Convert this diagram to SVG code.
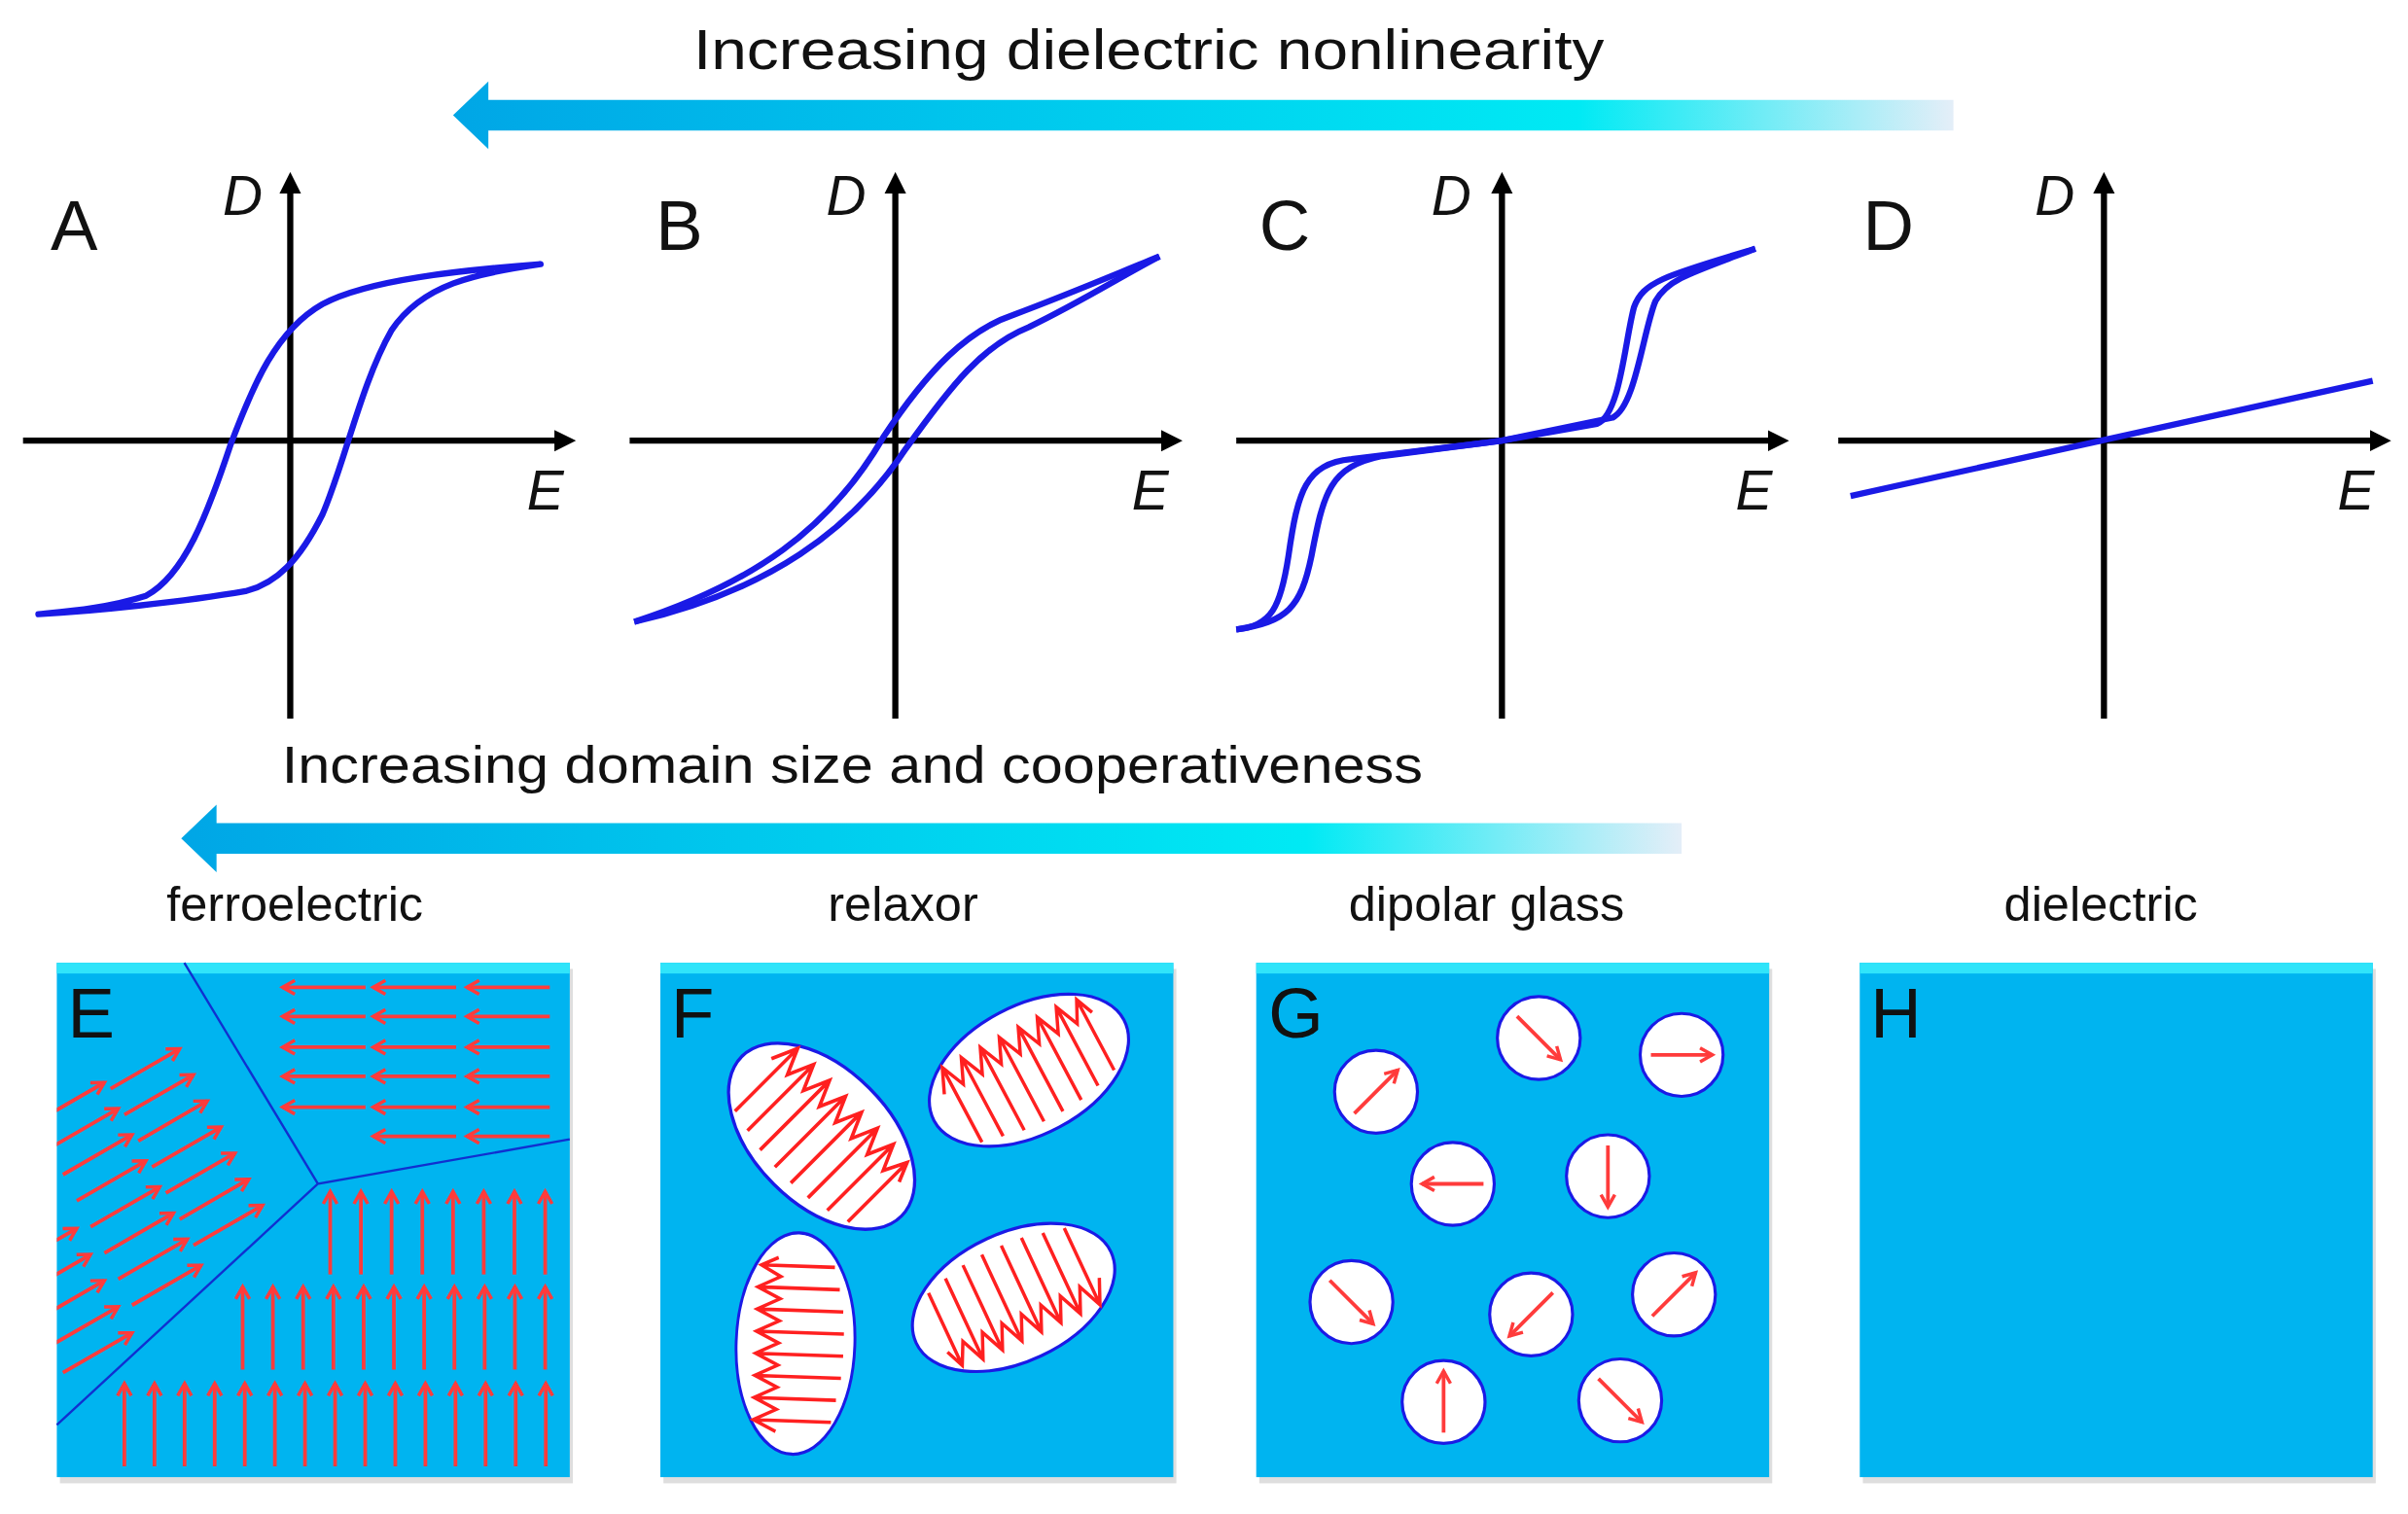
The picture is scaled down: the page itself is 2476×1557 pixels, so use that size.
<svg xmlns="http://www.w3.org/2000/svg" width="2476" height="1557" viewBox="0 0 2476 1557">
<style>
.t{font-family:"Liberation Sans",Arial,sans-serif;fill:#111}
.ax{stroke:#000;stroke-width:4;fill:none}
.cv{stroke:#1a1ae6;stroke-width:4;fill:none;stroke-linejoin:round}
.box{fill:#00b4f0}
.top{fill:#30e4fa}
.dl{stroke:#1030d0;stroke-width:1.5;fill:none}
.ra{stroke:#ff3b3b;stroke-width:2.4;fill:none;marker-end:url(#oh)}
.ell{fill:#fff;stroke:#1a1ae6;stroke-width:2}
.zz{stroke:#ff2020;stroke-width:2.2;fill:none;stroke-linejoin:miter}
</style>
<defs>
<linearGradient id="g1" x1="0" x2="1" y1="0" y2="0">
<stop offset="0" stop-color="#00a6e6"/><stop offset="0.75" stop-color="#00eaf4"/><stop offset="1" stop-color="#e4eef8"/>
</linearGradient>
<marker id="ah" markerUnits="userSpaceOnUse" markerWidth="14" markerHeight="24" refX="4" refY="12" orient="auto">
<path d="M0,5 L14,12 L0,19 Z" fill="#000"/>
</marker>
<marker id="oh" markerUnits="userSpaceOnUse" markerWidth="12" markerHeight="12" refX="9" refY="6" orient="auto">
<path d="M1,1.5 L9,6 L1,10.5" fill="none" stroke="#ff3b3b" stroke-width="2.2"/>
</marker>
<path id="al" class="ra" d="M0,0 H-54"/>
<path id="au" class="ra" d="M0,0 V-54"/>
<path id="ad" class="ra" d="M0,0 l45,-26"/>
<path id="ac" class="ra" d="M-20,0 H20"/>
<g id="dom">
<ellipse class="ell" cx="0" cy="0" rx="70" ry="42"/>
<path class="zz" d="M-49,27 V-28 M-35,30 V-28 M-21,33 V-28 M-7,34 V-28 M7,34 V-28 M21,33 V-28 M35,30 V-28 M49,26 V-26 M-56,-12 L-49,-28 L-42,-12 L-35,-28 L-28,-12 L-21,-28 L-14,-12 L-7,-28 L0,-12 L7,-28 L14,-12 L21,-28 L28,-12 L35,-28 L42,-12 L49,-26 L54,-14"/>
</g>
<clipPath id="ce"><rect x="37" y="627" width="334" height="335"/></clipPath>
</defs>
<g transform="scale(1.5791)">
<g id="heading1">
<text class="t" x="748" y="45" font-size="36" text-anchor="middle" textLength="593" lengthAdjust="spacingAndGlyphs">Increasing dielectric nonlinearity</text>
<path d="M1272,65 H318 V53 L295,75 L318,97 V85 H1272 Z" fill="url(#g1)"/>
</g>
<g id="plotA">
<path class="ax" d="M189,468 V122" marker-end="url(#ah)"/><path class="ax" d="M15,287 H365" marker-end="url(#ah)"/>
<text class="t" x="33" y="163" font-size="46">A</text>
<text class="t" x="145" y="140" font-size="36" font-style="italic">D</text>
<text class="t" x="343" y="332" font-size="36" font-style="italic">E</text>
<path class="cv" d="M352,172 C300,176 240,182 210,198 C180,215 165,250 150,290 C135,335 120,375 95,388 C70,396 45,398 25,400 C60,398 120,392 160,385 C180,380 195,365 210,335 C225,300 235,250 255,215 C275,185 310,178 352,172 Z"/>
</g>
<g id="plotB">
<path class="ax" d="M583,468 V122" marker-end="url(#ah)"/><path class="ax" d="M410,287 H760" marker-end="url(#ah)"/>
<text class="t" x="427" y="163" font-size="46">B</text>
<text class="t" x="538" y="140" font-size="36" font-style="italic">D</text>
<text class="t" x="737" y="332" font-size="36" font-style="italic">E</text>
<path class="cv" d="M413,405 C490,380 540,345 575,285 C605,240 630,215 660,205 C700,190 730,177 755,167"/>
<path class="cv" d="M413,405 C500,385 555,345 590,292 C620,250 640,225 670,213 C705,196 730,180 755,167"/>
</g>
<g id="plotC">
<path class="ax" d="M978,468 V122" marker-end="url(#ah)"/><path class="ax" d="M805,287 H1155" marker-end="url(#ah)"/>
<text class="t" x="820" y="163" font-size="46">C</text>
<text class="t" x="932" y="140" font-size="36" font-style="italic">D</text>
<text class="t" x="1130" y="332" font-size="36" font-style="italic">E</text>
<path class="cv" d="M805,410 C828,408 834,395 839,362 C845,320 850,302 880,299 L978,287 L1040,276 C1055,270 1058,222 1064,200 C1070,184 1082,180 1143,162"/>
<path class="cv" d="M805,410 C838,405 847,396 854,362 C862,320 866,304 900,297 L978,287 L1050,272 C1065,265 1070,215 1078,196 C1086,182 1100,178 1143,162"/>
</g>
<g id="plotD">
<path class="ax" d="M1370,468 V122" marker-end="url(#ah)"/><path class="ax" d="M1197,287 H1547" marker-end="url(#ah)"/>
<text class="t" x="1213" y="163" font-size="46">D</text>
<text class="t" x="1325" y="140" font-size="36" font-style="italic">D</text>
<text class="t" x="1522" y="332" font-size="36" font-style="italic">E</text>
<path class="cv" d="M1205,323 L1545,248"/>
</g>
<g id="heading2">
<text class="t" x="555" y="510" font-size="34" text-anchor="middle" textLength="743" lengthAdjust="spacingAndGlyphs">Increasing domain size and cooperativeness</text>
<path d="M1095,536 H141 V524 L118,546 L141,568 V556 H1095 Z" fill="url(#g1)"/>
</g>
<g id="labels">
<text class="t" x="192" y="600" font-size="32" text-anchor="middle">ferroelectric</text>
<text class="t" x="588" y="600" font-size="32" text-anchor="middle">relaxor</text>
<text class="t" x="968" y="600" font-size="32" text-anchor="middle">dipolar  glass</text>
<text class="t" x="1368" y="600" font-size="32" text-anchor="middle">dielectric</text>
</g>
<g id="panelE">
<rect x="39" y="631" width="334" height="335" fill="#c8c8c8" opacity="0.6"/>
<rect class="box" x="37" y="627" width="334" height="335"/>
<rect class="top" x="37" y="627" width="334" height="7"/>
<path class="dl" d="M120,627 L207,771 L371,742 M207,771 L37,928"/>
<g clip-path="url(#ce)">
<use href="#al" x="238" y="643"/><use href="#al" x="297" y="643"/><use href="#al" x="358" y="643"/>
<use href="#al" x="238" y="662"/><use href="#al" x="297" y="662"/><use href="#al" x="358" y="662"/>
<use href="#al" x="238" y="682"/><use href="#al" x="297" y="682"/><use href="#al" x="358" y="682"/>
<use href="#al" x="238" y="701"/><use href="#al" x="297" y="701"/><use href="#al" x="358" y="701"/>
<use href="#al" x="238" y="721"/><use href="#al" x="297" y="721"/><use href="#al" x="358" y="721"/>
<use href="#al" x="297" y="740"/><use href="#al" x="358" y="740"/>
<use href="#au" x="215" y="830"/><use href="#au" x="235" y="830"/><use href="#au" x="255" y="830"/><use href="#au" x="275" y="830"/><use href="#au" x="295" y="830"/><use href="#au" x="315" y="830"/><use href="#au" x="335" y="830"/><use href="#au" x="355" y="830"/>
<use href="#au" x="158" y="892"/><use href="#au" x="177.7" y="892"/><use href="#au" x="197.4" y="892"/><use href="#au" x="217.1" y="892"/><use href="#au" x="236.8" y="892"/><use href="#au" x="256.5" y="892"/><use href="#au" x="276.2" y="892"/><use href="#au" x="295.9" y="892"/><use href="#au" x="315.6" y="892"/><use href="#au" x="335.3" y="892"/><use href="#au" x="355" y="892"/>
<use href="#au" x="81" y="955"/><use href="#au" x="100.6" y="955"/><use href="#au" x="120.2" y="955"/><use href="#au" x="139.8" y="955"/><use href="#au" x="159.4" y="955"/><use href="#au" x="179" y="955"/><use href="#au" x="198.6" y="955"/><use href="#au" x="218.2" y="955"/><use href="#au" x="237.8" y="955"/><use href="#au" x="257.4" y="955"/><use href="#au" x="277" y="955"/><use href="#au" x="296.6" y="955"/><use href="#au" x="316.2" y="955"/><use href="#au" x="335.8" y="955"/><use href="#au" x="355.4" y="955"/>
<use href="#ad" x="72" y="709"/><use href="#ad" x="81" y="726"/><use href="#ad" x="90" y="743"/><use href="#ad" x="99" y="760"/><use href="#ad" x="108" y="777"/><use href="#ad" x="117" y="794"/><use href="#ad" x="126" y="811"/>
<use href="#ad" x="23" y="731"/><use href="#ad" x="32" y="748"/><use href="#ad" x="41" y="765"/><use href="#ad" x="50" y="782"/><use href="#ad" x="59" y="799"/><use href="#ad" x="68" y="816"/><use href="#ad" x="77" y="833"/><use href="#ad" x="86" y="850"/>
<use href="#ad" x="5" y="826"/><use href="#ad" x="14" y="843"/><use href="#ad" x="23" y="860"/><use href="#ad" x="32" y="877"/><use href="#ad" x="41" y="894"/>
</g>
<text class="t" x="44" y="676" font-size="46">E</text>
</g>
<g id="panelF">
<rect x="432" y="631" width="334" height="335" fill="#c8c8c8" opacity="0.6"/>
<rect class="box" x="430" y="627" width="334" height="335"/>
<rect class="top" x="430" y="627" width="334" height="7"/>
<use href="#dom" transform="translate(535,740) rotate(45) scale(1.05,1.05)"/>
<use href="#dom" transform="translate(670,697) rotate(-28)"/>
<use href="#dom" transform="translate(518,875) rotate(-88) scale(1.03,0.92)"/>
<use href="#dom" transform="translate(660,845) rotate(155)"/>
<text class="t" x="437" y="676" font-size="46">F</text>
</g>
<g id="panelG">
<rect x="820" y="631" width="334" height="335" fill="#c8c8c8" opacity="0.6"/>
<rect class="box" x="818" y="627" width="334" height="335"/>
<rect class="top" x="818" y="627" width="334" height="7"/>
<g class="ell">
<circle cx="896" cy="711" r="27"/><circle cx="1002" cy="676" r="27"/><circle cx="1095" cy="687" r="27"/>
<circle cx="946" cy="771" r="27"/><circle cx="1047" cy="766" r="27"/><circle cx="880" cy="848" r="27"/>
<circle cx="997" cy="856" r="27"/><circle cx="1090" cy="843" r="27"/><circle cx="940" cy="913" r="27"/><circle cx="1055" cy="912" r="27"/>
</g>
<use href="#ac" transform="translate(896,711) rotate(-45)"/>
<use href="#ac" transform="translate(1002,676) rotate(45)"/>
<use href="#ac" transform="translate(1095,687)"/>
<use href="#ac" transform="translate(946,771) rotate(180)"/>
<use href="#ac" transform="translate(1047,766) rotate(90)"/>
<use href="#ac" transform="translate(880,848) rotate(45)"/>
<use href="#ac" transform="translate(997,856) rotate(135)"/>
<use href="#ac" transform="translate(1090,843) rotate(-45)"/>
<use href="#ac" transform="translate(940,913) rotate(-90)"/>
<use href="#ac" transform="translate(1055,912) rotate(45)"/>
<text class="t" x="826" y="676" font-size="46">G</text>
</g>
<g id="panelH">
<rect x="1213" y="631" width="334" height="335" fill="#c8c8c8" opacity="0.6"/>
<rect class="box" x="1211" y="627" width="334" height="335"/>
<rect class="top" x="1211" y="627" width="334" height="7"/>
<text class="t" x="1218" y="676" font-size="46">H</text>
</g>
</g>
</svg>
